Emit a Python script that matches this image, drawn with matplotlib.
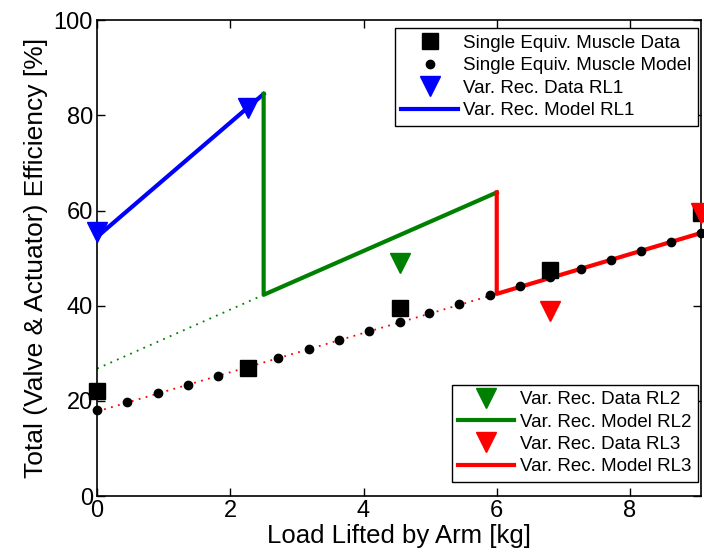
import matplotlib
matplotlib.use("Agg")
import matplotlib.pyplot as plt
import numpy as np

plt.rcParams['font.family'] = ['Liberation Sans', 'DejaVu Sans']

# single equivalent muscle
sem_x = [0, 2.27, 4.54, 6.80, 9.07]
sem_y = [22.0, 27.0, 39.5, 47.5, 59.5]
mod_x = [0, 0.45, 0.91, 1.36, 1.81, 2.27, 2.72, 3.18, 3.63, 4.08, 4.54,
         4.99, 5.44, 5.90, 6.35, 6.80, 7.26, 7.71, 8.16, 8.62, 9.07]
mod_y = [18.0, 19.8, 21.6, 23.4, 25.3, 27.1, 29.0, 30.9, 32.8, 34.7, 36.6,
         38.5, 40.4, 42.3, 44.1, 46.0, 47.8, 49.6, 51.4, 53.3, 55.2]

# variable recruitment data
rl1_x = [0, 2.27]
rl1_y = [55.5, 81.5]
rl2_x = [4.54]
rl2_y = [49.0]
rl3_x = [6.80, 9.07]
rl3_y = [39.0, 59.5]

# variable recruitment models
rl1_mx = [0, 2.5]
rl1_my = [54.5, 84.5]
rl2_mx = [2.5, 2.5, 6.0]
rl2_my = [84.5, 42.3, 63.8]
rl2_dx = [0, 2.5]
rl2_dy = [26.8, 42.3]
rl3_mx = [6.0, 6.0, 9.07]
rl3_my = [63.8, 42.5, 55.3]
rl3_dx = [0, 6.0]
rl3_dy = [17.8, 42.5]

green = '#008000'

fig = plt.figure(figsize=(7.04, 5.6), dpi=100)
ax = fig.add_axes([0.138, 0.114, 0.858, 0.85])

ax.plot(rl2_dx, rl2_dy, color=green, lw=1.3, ls=(0, (1, 3)))
ax.plot(rl3_dx, rl3_dy, color='red', lw=1.3, ls=(0, (1, 3)))
h_l1, = ax.plot(rl1_mx, rl1_my, '-', color='blue', lw=3)
h_l2, = ax.plot(rl2_mx, rl2_my, '-', color=green, lw=3)
h_l3, = ax.plot(rl3_mx, rl3_my, '-', color='red', lw=3)
h_sq, = ax.plot(sem_x, sem_y, 's', color='black', ms=12, clip_on=False, zorder=5)
h_dot, = ax.plot(mod_x, mod_y, 'o', color='black', ms=6, clip_on=False, zorder=5)
h_t1, = ax.plot(rl1_x, rl1_y, 'v', color='blue', ms=15, clip_on=False, zorder=6)
h_t2, = ax.plot(rl2_x, rl2_y, 'v', color=green, ms=15, clip_on=False, zorder=6)
h_t3, = ax.plot(rl3_x, rl3_y, 'v', color='red', ms=15, clip_on=False, zorder=6)

ax.set_xlim(0, 9.07)
ax.set_ylim(0, 100)
ax.set_xticks([0, 2, 4, 6, 8])
ax.set_yticks([0, 20, 40, 60, 80, 100])
ax.tick_params(direction='in', top=True, right=True, labelsize=17, length=6, width=1, pad=3)
for s in ax.spines.values():
    s.set_linewidth(1.2)
ax.set_xlabel('Load Lifted by Arm [kg]', fontsize=18.5, labelpad=1)
ax.set_ylabel('Total (Valve & Actuator) Efficiency [%]', fontsize=19, labelpad=4)

leg_kw = dict(fontsize=13.5, fancybox=False, edgecolor='black', framealpha=1,
              handlelength=3, borderpad=0.35, labelspacing=0.28, handletextpad=0.3,
              borderaxespad=0)
leg1 = ax.legend([h_sq, h_dot, h_t1, h_l1],
                 ['Single Equiv. Muscle Data', 'Single Equiv. Muscle Model',
                  'Var. Rec. Data RL1', 'Var. Rec. Model RL1'],
                 loc='upper right', bbox_to_anchor=(0.995, 0.983), **leg_kw)
leg1.get_frame().set_linewidth(1)
ax.add_artist(leg1)
leg2 = ax.legend([h_t2, h_l2, h_t3, h_l3],
                 ['Var. Rec. Data RL2', 'Var. Rec. Model RL2',
                  'Var. Rec. Data RL3', 'Var. Rec. Model RL3'],
                 loc='lower right', bbox_to_anchor=(0.995, 0.03), **leg_kw)
leg2.get_frame().set_linewidth(1)

fig.savefig('out.png', dpi=100)
